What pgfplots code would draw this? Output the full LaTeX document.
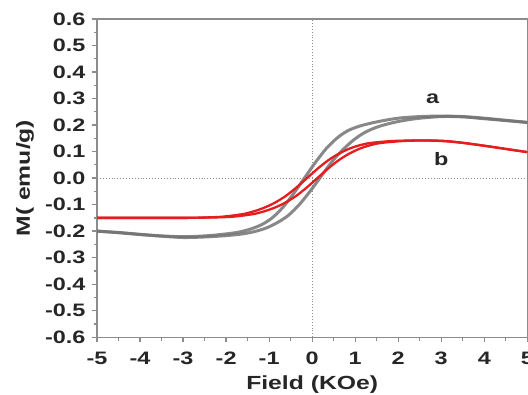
\documentclass[border=0pt]{standalone}
\usepackage{fontspec}
\setmainfont[FakeStretch=1.3]{Liberation Sans}
\usepackage{pgfplots}
\pgfplotsset{compat=1.18}
\definecolor{axgray}{RGB}{140,140,140}
\definecolor{curvegray}{RGB}{115,115,115}
\definecolor{curvered}{RGB}{228,30,30}
\begin{document}
\begin{tikzpicture}
\begin{axis}[
  name=ax,
  scale only axis, width=430pt, height=318pt,
  xmin=-5, xmax=5, ymin=-0.6, ymax=0.6,
  xtick={-5,-4,-3,-2,-1,0,1,2,3,4,5},
  ytick={-0.6,-0.5,-0.4,-0.3,-0.2,-0.1,0,0.1,0.2,0.3,0.4,0.5,0.6},
  minor x tick num=1, minor y tick num=1,
  tick align=outside, xtick pos=bottom, ytick pos=left,
  axis line style={axgray, line width=1.3pt},
  every tick/.style={axgray, line width=1.3pt},
  major tick length=5pt, minor tick length=3.5pt,
  /pgf/number format/assume math mode=true,
  y tick label style={/pgf/number format/.cd, fixed, fixed zerofill, precision=1, /tikz/.cd, xshift=-3pt},
  x tick label style={yshift=-6pt},
  tick label style={font=\fontsize{18}{20}\selectfont\bfseries, text=black!85},
  label style={font=\fontsize{19}{22}\selectfont\bfseries, text=black!85},
  xlabel={Field (KOe)}, ylabel={M( emu/g)},
  xlabel style={at={(axis description cs:0.5,0)}, anchor=center, yshift=-47pt},
  ylabel style={at={(axis description cs:0,0.5)}, anchor=center, yshift=72pt},
  clip=true,
]
\addplot[axgray, dotted, line width=0.9pt] coordinates {(0,-0.6) (0,0.6)};
\addplot[axgray, dotted, line width=0.9pt] coordinates {(-5,0) (5,0)};
% sample a (gray loop)
\addplot[curvegray, line width=3pt, smooth, opacity=0.85] coordinates {
(5,0.21) (4.5,0.218) (4,0.226) (3.5,0.232) (3,0.234) (2.5,0.232) (2,0.226) (1.5,0.212)
(1.1,0.196) (0.82,0.178) (0.57,0.15) (0.32,0.11) (0.07,0.058) (-0.18,0) (-0.43,-0.058)
(-0.68,-0.11) (-0.93,-0.15) (-1.18,-0.176) (-1.45,-0.193) (-1.75,-0.205) (-2.2,-0.214)
(-2.6,-0.219) (-3,-0.221) (-3.5,-0.218) (-4,-0.212) (-4.5,-0.205) (-5,-0.2)
};
\addplot[curvegray, line width=3pt, smooth, opacity=0.85] coordinates {
(-5,-0.2) (-4.5,-0.206) (-4,-0.213) (-3.5,-0.219) (-3,-0.224) (-2.5,-0.222) (-2,-0.217)
(-1.6,-0.21) (-1.3,-0.2) (-1.05,-0.187) (-0.8,-0.167) (-0.55,-0.14) (-0.3,-0.1)
(-0.05,-0.05) (0.2,0.005) (0.45,0.06) (0.7,0.105) (0.95,0.142) (1.2,0.17) (1.5,0.192)
(1.9,0.21) (2.4,0.224) (3,0.232) (3.5,0.231) (4,0.224) (4.5,0.217) (5,0.21)
};
% sample b (red loop)
\addplot[curvered, line width=2.3pt, smooth] coordinates {
(5,0.098) (4.5,0.11) (4,0.122) (3.5,0.133) (3,0.14) (2.5,0.142) (1.88,0.14) (1.38,0.133)
(1.13,0.125) (0.88,0.112) (0.63,0.093) (0.38,0.068) (0.13,0.036) (-0.12,0) (-0.37,-0.036)
(-0.62,-0.068) (-0.87,-0.093) (-1.12,-0.112) (-1.37,-0.126) (-1.62,-0.136) (-2.12,-0.146)
(-2.62,-0.149) (-3,-0.15) (-4,-0.15) (-5,-0.15)
};
\addplot[curvered, line width=2.3pt, smooth] coordinates {
(-5,-0.15) (-4,-0.15) (-3,-0.15) (-2.5,-0.149) (-1.88,-0.146) (-1.38,-0.136) (-1.13,-0.126)
(-0.88,-0.112) (-0.63,-0.093) (-0.38,-0.068) (-0.13,-0.036) (0.12,0) (0.37,0.036)
(0.62,0.068) (0.87,0.093) (1.12,0.112) (1.37,0.125) (1.62,0.133) (2.12,0.14) (2.62,0.142)
(3.1,0.14) (3.5,0.133) (4,0.122) (4.5,0.11) (5,0.098)
};
\node[font=\fontsize{18}{20}\selectfont\bfseries, text=black!85] at (axis cs:2.8,0.30) {a};
\node[font=\fontsize{18}{20}\selectfont\bfseries, text=black!85] at (axis cs:3.0,0.07) {b};
\end{axis}
\path (ax.south west) ++(-97pt,-57pt) coordinate (bl);
\path (ax.north east) ++(0.7pt,19pt) coordinate (tr);
\pgfresetboundingbox
\path (bl) rectangle (tr);
\end{tikzpicture}
\end{document}
